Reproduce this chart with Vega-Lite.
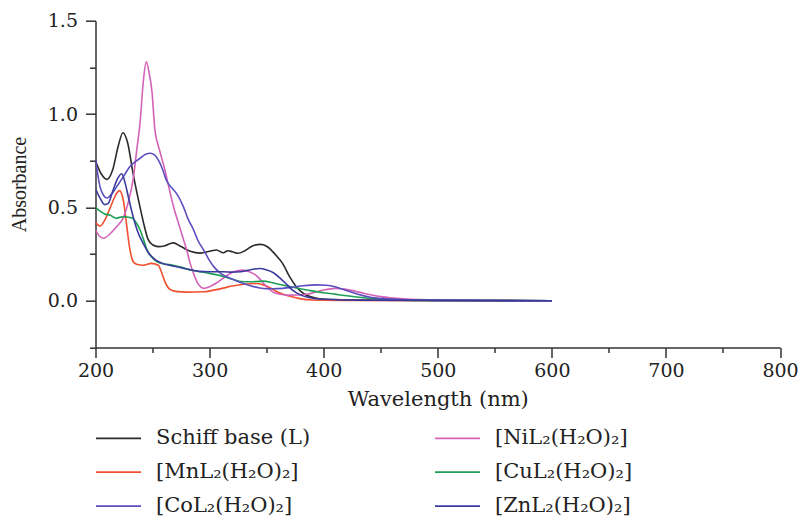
{
  "$schema": "https://vega.github.io/schema/vega-lite/v6.json",
  "width": 684.5,
  "height": 326.7,
  "autosize": {"type": "none"},
  "padding": {"left": 95.5, "top": 20.7, "right": 18, "bottom": 169.6},
  "background": "white",
  "config": {"view": {"stroke": null}, "font": "DejaVu Serif"},
  "datasets": {
    "spectra": [
      {"s":"Schiff base (L)","w":200,"a":0.75},{"s":"Schiff base (L)","w":205,"a":0.68},{"s":"Schiff base (L)","w":210,"a":0.65},{"s":"Schiff base (L)","w":215,"a":0.70},{"s":"Schiff base (L)","w":220,"a":0.83},{"s":"Schiff base (L)","w":224,"a":0.90},{"s":"Schiff base (L)","w":228,"a":0.85},{"s":"Schiff base (L)","w":233,"a":0.68},{"s":"Schiff base (L)","w":238,"a":0.53},{"s":"Schiff base (L)","w":242,"a":0.42},{"s":"Schiff base (L)","w":246,"a":0.33},{"s":"Schiff base (L)","w":250,"a":0.30},{"s":"Schiff base (L)","w":255,"a":0.29},{"s":"Schiff base (L)","w":261,"a":0.295},{"s":"Schiff base (L)","w":268,"a":0.31},{"s":"Schiff base (L)","w":275,"a":0.29},{"s":"Schiff base (L)","w":283,"a":0.265},{"s":"Schiff base (L)","w":292,"a":0.255},{"s":"Schiff base (L)","w":300,"a":0.265},{"s":"Schiff base (L)","w":306,"a":0.272},{"s":"Schiff base (L)","w":312,"a":0.257},{"s":"Schiff base (L)","w":316,"a":0.268},{"s":"Schiff base (L)","w":320,"a":0.262},{"s":"Schiff base (L)","w":325,"a":0.254},{"s":"Schiff base (L)","w":331,"a":0.268},{"s":"Schiff base (L)","w":338,"a":0.295},{"s":"Schiff base (L)","w":345,"a":0.302},{"s":"Schiff base (L)","w":351,"a":0.288},{"s":"Schiff base (L)","w":358,"a":0.245},{"s":"Schiff base (L)","w":364,"a":0.2},{"s":"Schiff base (L)","w":370,"a":0.13},{"s":"Schiff base (L)","w":376,"a":0.075},{"s":"Schiff base (L)","w":382,"a":0.04},{"s":"Schiff base (L)","w":388,"a":0.022},{"s":"Schiff base (L)","w":395,"a":0.012},{"s":"Schiff base (L)","w":410,"a":0.006},{"s":"Schiff base (L)","w":450,"a":0.003},{"s":"Schiff base (L)","w":500,"a":0.001},{"s":"Schiff base (L)","w":600,"a":0},
      {"s":"[MnL₂(H₂O)₂]","w":200,"a":0.42},{"s":"[MnL₂(H₂O)₂]","w":204,"a":0.40},{"s":"[MnL₂(H₂O)₂]","w":208,"a":0.43},{"s":"[MnL₂(H₂O)₂]","w":213,"a":0.50},{"s":"[MnL₂(H₂O)₂]","w":218,"a":0.57},{"s":"[MnL₂(H₂O)₂]","w":221,"a":0.59},{"s":"[MnL₂(H₂O)₂]","w":224,"a":0.55},{"s":"[MnL₂(H₂O)₂]","w":226,"a":0.47},{"s":"[MnL₂(H₂O)₂]","w":228,"a":0.37},{"s":"[MnL₂(H₂O)₂]","w":230,"a":0.28},{"s":"[MnL₂(H₂O)₂]","w":233,"a":0.21},{"s":"[MnL₂(H₂O)₂]","w":236,"a":0.195},{"s":"[MnL₂(H₂O)₂]","w":242,"a":0.19},{"s":"[MnL₂(H₂O)₂]","w":249,"a":0.20},{"s":"[MnL₂(H₂O)₂]","w":255,"a":0.19},{"s":"[MnL₂(H₂O)₂]","w":258,"a":0.15},{"s":"[MnL₂(H₂O)₂]","w":261,"a":0.10},{"s":"[MnL₂(H₂O)₂]","w":265,"a":0.062},{"s":"[MnL₂(H₂O)₂]","w":270,"a":0.05},{"s":"[MnL₂(H₂O)₂]","w":280,"a":0.046},{"s":"[MnL₂(H₂O)₂]","w":295,"a":0.048},{"s":"[MnL₂(H₂O)₂]","w":310,"a":0.065},{"s":"[MnL₂(H₂O)₂]","w":321,"a":0.08},{"s":"[MnL₂(H₂O)₂]","w":330,"a":0.088},{"s":"[MnL₂(H₂O)₂]","w":341,"a":0.092},{"s":"[MnL₂(H₂O)₂]","w":347,"a":0.085},{"s":"[MnL₂(H₂O)₂]","w":353,"a":0.07},{"s":"[MnL₂(H₂O)₂]","w":360,"a":0.045},{"s":"[MnL₂(H₂O)₂]","w":370,"a":0.025},{"s":"[MnL₂(H₂O)₂]","w":380,"a":0.01},{"s":"[MnL₂(H₂O)₂]","w":390,"a":0.004},{"s":"[MnL₂(H₂O)₂]","w":420,"a":0.002},{"s":"[MnL₂(H₂O)₂]","w":600,"a":0},
      {"s":"[NiL₂(H₂O)₂]","w":200,"a":0.38},{"s":"[NiL₂(H₂O)₂]","w":203,"a":0.35},{"s":"[NiL₂(H₂O)₂]","w":207,"a":0.335},{"s":"[NiL₂(H₂O)₂]","w":213,"a":0.36},{"s":"[NiL₂(H₂O)₂]","w":219,"a":0.40},{"s":"[NiL₂(H₂O)₂]","w":224,"a":0.44},{"s":"[NiL₂(H₂O)₂]","w":227,"a":0.49},{"s":"[NiL₂(H₂O)₂]","w":230,"a":0.56},{"s":"[NiL₂(H₂O)₂]","w":233,"a":0.65},{"s":"[NiL₂(H₂O)₂]","w":236,"a":0.80},{"s":"[NiL₂(H₂O)₂]","w":239,"a":0.95},{"s":"[NiL₂(H₂O)₂]","w":242,"a":1.18},{"s":"[NiL₂(H₂O)₂]","w":244.5,"a":1.28},{"s":"[NiL₂(H₂O)₂]","w":247,"a":1.22},{"s":"[NiL₂(H₂O)₂]","w":249.5,"a":1.12},{"s":"[NiL₂(H₂O)₂]","w":252,"a":0.92},{"s":"[NiL₂(H₂O)₂]","w":256,"a":0.81},{"s":"[NiL₂(H₂O)₂]","w":260,"a":0.72},{"s":"[NiL₂(H₂O)₂]","w":265,"a":0.59},{"s":"[NiL₂(H₂O)₂]","w":269,"a":0.49},{"s":"[NiL₂(H₂O)₂]","w":273,"a":0.41},{"s":"[NiL₂(H₂O)₂]","w":277,"a":0.33},{"s":"[NiL₂(H₂O)₂]","w":280,"a":0.27},{"s":"[NiL₂(H₂O)₂]","w":283,"a":0.2},{"s":"[NiL₂(H₂O)₂]","w":286,"a":0.145},{"s":"[NiL₂(H₂O)₂]","w":290,"a":0.09},{"s":"[NiL₂(H₂O)₂]","w":295,"a":0.066},{"s":"[NiL₂(H₂O)₂]","w":300,"a":0.075},{"s":"[NiL₂(H₂O)₂]","w":306,"a":0.095},{"s":"[NiL₂(H₂O)₂]","w":314,"a":0.13},{"s":"[NiL₂(H₂O)₂]","w":321,"a":0.155},{"s":"[NiL₂(H₂O)₂]","w":329,"a":0.164},{"s":"[NiL₂(H₂O)₂]","w":335,"a":0.155},{"s":"[NiL₂(H₂O)₂]","w":340,"a":0.14},{"s":"[NiL₂(H₂O)₂]","w":345,"a":0.11},{"s":"[NiL₂(H₂O)₂]","w":350,"a":0.075},{"s":"[NiL₂(H₂O)₂]","w":356,"a":0.045},{"s":"[NiL₂(H₂O)₂]","w":362,"a":0.035},{"s":"[NiL₂(H₂O)₂]","w":370,"a":0.03},{"s":"[NiL₂(H₂O)₂]","w":385,"a":0.035},{"s":"[NiL₂(H₂O)₂]","w":398,"a":0.055},{"s":"[NiL₂(H₂O)₂]","w":410,"a":0.066},{"s":"[NiL₂(H₂O)₂]","w":422,"a":0.058},{"s":"[NiL₂(H₂O)₂]","w":435,"a":0.04},{"s":"[NiL₂(H₂O)₂]","w":450,"a":0.022},{"s":"[NiL₂(H₂O)₂]","w":470,"a":0.01},{"s":"[NiL₂(H₂O)₂]","w":500,"a":0.004},{"s":"[NiL₂(H₂O)₂]","w":600,"a":0},
      {"s":"[CuL₂(H₂O)₂]","w":200,"a":0.50},{"s":"[CuL₂(H₂O)₂]","w":204,"a":0.48},{"s":"[CuL₂(H₂O)₂]","w":208,"a":0.465},{"s":"[CuL₂(H₂O)₂]","w":213,"a":0.458},{"s":"[CuL₂(H₂O)₂]","w":218,"a":0.442},{"s":"[CuL₂(H₂O)₂]","w":222,"a":0.448},{"s":"[CuL₂(H₂O)₂]","w":226,"a":0.45},{"s":"[CuL₂(H₂O)₂]","w":230,"a":0.446},{"s":"[CuL₂(H₂O)₂]","w":233,"a":0.44},{"s":"[CuL₂(H₂O)₂]","w":236,"a":0.415},{"s":"[CuL₂(H₂O)₂]","w":239,"a":0.38},{"s":"[CuL₂(H₂O)₂]","w":242,"a":0.33},{"s":"[CuL₂(H₂O)₂]","w":245,"a":0.275},{"s":"[CuL₂(H₂O)₂]","w":249,"a":0.235},{"s":"[CuL₂(H₂O)₂]","w":254,"a":0.208},{"s":"[CuL₂(H₂O)₂]","w":260,"a":0.198},{"s":"[CuL₂(H₂O)₂]","w":268,"a":0.19},{"s":"[CuL₂(H₂O)₂]","w":275,"a":0.18},{"s":"[CuL₂(H₂O)₂]","w":283,"a":0.165},{"s":"[CuL₂(H₂O)₂]","w":297,"a":0.15},{"s":"[CuL₂(H₂O)₂]","w":312,"a":0.13},{"s":"[CuL₂(H₂O)₂]","w":320,"a":0.115},{"s":"[CuL₂(H₂O)₂]","w":327,"a":0.103},{"s":"[CuL₂(H₂O)₂]","w":335,"a":0.102},{"s":"[CuL₂(H₂O)₂]","w":341,"a":0.103},{"s":"[CuL₂(H₂O)₂]","w":347,"a":0.105},{"s":"[CuL₂(H₂O)₂]","w":356,"a":0.095},{"s":"[CuL₂(H₂O)₂]","w":364,"a":0.084},{"s":"[CuL₂(H₂O)₂]","w":375,"a":0.07},{"s":"[CuL₂(H₂O)₂]","w":388,"a":0.054},{"s":"[CuL₂(H₂O)₂]","w":400,"a":0.043},{"s":"[CuL₂(H₂O)₂]","w":411,"a":0.034},{"s":"[CuL₂(H₂O)₂]","w":422,"a":0.025},{"s":"[CuL₂(H₂O)₂]","w":435,"a":0.016},{"s":"[CuL₂(H₂O)₂]","w":457,"a":0.006},{"s":"[CuL₂(H₂O)₂]","w":480,"a":0.002},{"s":"[CuL₂(H₂O)₂]","w":600,"a":0},
      {"s":"[CoL₂(H₂O)₂]","w":200,"a":0.76},{"s":"[CoL₂(H₂O)₂]","w":204,"a":0.61},{"s":"[CoL₂(H₂O)₂]","w":207,"a":0.565},{"s":"[CoL₂(H₂O)₂]","w":210,"a":0.55},{"s":"[CoL₂(H₂O)₂]","w":214,"a":0.57},{"s":"[CoL₂(H₂O)₂]","w":219,"a":0.615},{"s":"[CoL₂(H₂O)₂]","w":225,"a":0.67},{"s":"[CoL₂(H₂O)₂]","w":230,"a":0.718},{"s":"[CoL₂(H₂O)₂]","w":235,"a":0.745},{"s":"[CoL₂(H₂O)₂]","w":239,"a":0.763},{"s":"[CoL₂(H₂O)₂]","w":244,"a":0.785},{"s":"[CoL₂(H₂O)₂]","w":248,"a":0.79},{"s":"[CoL₂(H₂O)₂]","w":252,"a":0.78},{"s":"[CoL₂(H₂O)₂]","w":255,"a":0.754},{"s":"[CoL₂(H₂O)₂]","w":259,"a":0.70},{"s":"[CoL₂(H₂O)₂]","w":262,"a":0.647},{"s":"[CoL₂(H₂O)₂]","w":266,"a":0.61},{"s":"[CoL₂(H₂O)₂]","w":271,"a":0.575},{"s":"[CoL₂(H₂O)₂]","w":277,"a":0.504},{"s":"[CoL₂(H₂O)₂]","w":281,"a":0.44},{"s":"[CoL₂(H₂O)₂]","w":286,"a":0.379},{"s":"[CoL₂(H₂O)₂]","w":290,"a":0.32},{"s":"[CoL₂(H₂O)₂]","w":295,"a":0.27},{"s":"[CoL₂(H₂O)₂]","w":300,"a":0.215},{"s":"[CoL₂(H₂O)₂]","w":304,"a":0.18},{"s":"[CoL₂(H₂O)₂]","w":310,"a":0.145},{"s":"[CoL₂(H₂O)₂]","w":318,"a":0.12},{"s":"[CoL₂(H₂O)₂]","w":326,"a":0.10},{"s":"[CoL₂(H₂O)₂]","w":335,"a":0.082},{"s":"[CoL₂(H₂O)₂]","w":344,"a":0.068},{"s":"[CoL₂(H₂O)₂]","w":350,"a":0.064},{"s":"[CoL₂(H₂O)₂]","w":360,"a":0.065},{"s":"[CoL₂(H₂O)₂]","w":370,"a":0.07},{"s":"[CoL₂(H₂O)₂]","w":382,"a":0.08},{"s":"[CoL₂(H₂O)₂]","w":394,"a":0.085},{"s":"[CoL₂(H₂O)₂]","w":402,"a":0.083},{"s":"[CoL₂(H₂O)₂]","w":410,"a":0.075},{"s":"[CoL₂(H₂O)₂]","w":420,"a":0.055},{"s":"[CoL₂(H₂O)₂]","w":430,"a":0.035},{"s":"[CoL₂(H₂O)₂]","w":440,"a":0.02},{"s":"[CoL₂(H₂O)₂]","w":455,"a":0.01},{"s":"[CoL₂(H₂O)₂]","w":470,"a":0.005},{"s":"[CoL₂(H₂O)₂]","w":500,"a":0.002},{"s":"[CoL₂(H₂O)₂]","w":600,"a":0},
      {"s":"[ZnL₂(H₂O)₂]","w":200,"a":0.60},{"s":"[ZnL₂(H₂O)₂]","w":204,"a":0.55},{"s":"[ZnL₂(H₂O)₂]","w":208,"a":0.515},{"s":"[ZnL₂(H₂O)₂]","w":211,"a":0.52},{"s":"[ZnL₂(H₂O)₂]","w":215,"a":0.585},{"s":"[ZnL₂(H₂O)₂]","w":219,"a":0.65},{"s":"[ZnL₂(H₂O)₂]","w":223,"a":0.68},{"s":"[ZnL₂(H₂O)₂]","w":226,"a":0.63},{"s":"[ZnL₂(H₂O)₂]","w":229,"a":0.55},{"s":"[ZnL₂(H₂O)₂]","w":233,"a":0.45},{"s":"[ZnL₂(H₂O)₂]","w":237,"a":0.37},{"s":"[ZnL₂(H₂O)₂]","w":242,"a":0.305},{"s":"[ZnL₂(H₂O)₂]","w":246,"a":0.26},{"s":"[ZnL₂(H₂O)₂]","w":251,"a":0.227},{"s":"[ZnL₂(H₂O)₂]","w":255,"a":0.21},{"s":"[ZnL₂(H₂O)₂]","w":259,"a":0.2},{"s":"[ZnL₂(H₂O)₂]","w":265,"a":0.19},{"s":"[ZnL₂(H₂O)₂]","w":271,"a":0.182},{"s":"[ZnL₂(H₂O)₂]","w":280,"a":0.17},{"s":"[ZnL₂(H₂O)₂]","w":291,"a":0.157},{"s":"[ZnL₂(H₂O)₂]","w":300,"a":0.155},{"s":"[ZnL₂(H₂O)₂]","w":312,"a":0.155},{"s":"[ZnL₂(H₂O)₂]","w":320,"a":0.153},{"s":"[ZnL₂(H₂O)₂]","w":327,"a":0.155},{"s":"[ZnL₂(H₂O)₂]","w":335,"a":0.165},{"s":"[ZnL₂(H₂O)₂]","w":344,"a":0.173},{"s":"[ZnL₂(H₂O)₂]","w":350,"a":0.165},{"s":"[ZnL₂(H₂O)₂]","w":356,"a":0.15},{"s":"[ZnL₂(H₂O)₂]","w":362,"a":0.12},{"s":"[ZnL₂(H₂O)₂]","w":368,"a":0.085},{"s":"[ZnL₂(H₂O)₂]","w":373,"a":0.055},{"s":"[ZnL₂(H₂O)₂]","w":380,"a":0.03},{"s":"[ZnL₂(H₂O)₂]","w":388,"a":0.016},{"s":"[ZnL₂(H₂O)₂]","w":400,"a":0.008},{"s":"[ZnL₂(H₂O)₂]","w":430,"a":0.003},{"s":"[ZnL₂(H₂O)₂]","w":600,"a":0}
    ]
  },
  "data": {"name": "spectra"},
  "mark": {"type": "line", "interpolate": "monotone", "strokeWidth": 1.6, "clip": true},
  "encoding": {
    "x": {
      "field": "w", "type": "quantitative",
      "scale": {"domain": [200, 800], "nice": false, "zero": false},
      "axis": {
        "title": "Wavelength (nm)",
        "titleFont": "DejaVu Serif", "titleFontSize": 21, "titleFontWeight": "normal", "titleColor": "#222", "titlePadding": 8,
        "values": [200,250,300,350,400,450,500,550,600,650,700,750,800],
        "labelExpr": "datum.value % 100 === 0 ? format(datum.value, 'd') : ''",
        "labelFont": "DejaVu Serif", "labelFontSize": 19, "labelColor": "#222", "labelPadding": 4,
        "labelFlush": false, "labelOverlap": false,
        "tickSize": {"condition": {"test": "datum.value % 100 === 0", "value": 10}, "value": 5},
        "tickColor": "#333", "tickWidth": 1.5,
        "domainColor": "#333", "domainWidth": 1.5, "grid": false
      }
    },
    "y": {
      "field": "a", "type": "quantitative",
      "scale": {"domain": [-0.25, 1.5], "nice": false, "zero": false},
      "axis": {
        "title": "Absorbance",
        "titleFont": "Liberation Serif", "titleFontSize": 20, "titleFontWeight": "normal", "titleColor": "#222", "titlePadding": 18,
        "values": [-0.25,0,0.25,0.5,0.75,1,1.25,1.5],
        "labelExpr": "(datum.value >= 0 && abs(datum.value*2 - round(datum.value*2)) < 0.001) ? format(datum.value, '.1f') : ''",
        "labelFont": "DejaVu Serif", "labelFontSize": 19, "labelColor": "#222", "labelPadding": 8,
        "labelFlush": false, "labelOverlap": false,
        "tickSize": {"condition": {"test": "abs(datum.value*2 - round(datum.value*2)) < 0.001 && datum.value >= 0", "value": 10}, "value": 6},
        "tickColor": "#333", "tickWidth": 1.5,
        "domainColor": "#333", "domainWidth": 1.5, "grid": false
      }
    },
    "color": {
      "field": "s", "type": "nominal",
      "scale": {
        "domain": ["Schiff base (L)", "[NiL₂(H₂O)₂]", "[MnL₂(H₂O)₂]", "[CuL₂(H₂O)₂]", "[CoL₂(H₂O)₂]", "[ZnL₂(H₂O)₂]"],
        "range": ["#2b2b2b", "#d462b8", "#f0502e", "#1f9e55", "#5b4fbf", "#3b3b9e"]
      },
      "legend": {
        "title": null, "orient": "none", "legendX": -0.5, "legendY": 394,
        "direction": "horizontal", "columns": 2, "columnPadding": 120, "rowPadding": -16,
        "symbolType": "stroke", "symbolSize": 2025, "symbolStrokeWidth": 1.8,
        "labelFont": "DejaVu Serif", "labelFontSize": 21, "labelColor": "#222", "labelOffset": 14, "labelLimit": 400,
        "padding": 0
      }
    }
  }
}
